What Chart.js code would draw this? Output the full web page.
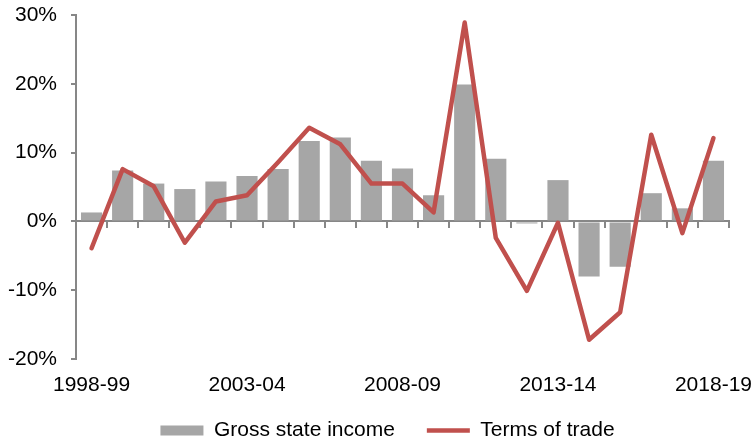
<!DOCTYPE html>
<html>
<head>
<meta charset="utf-8">
<script src="https://cdn.jsdelivr.net/npm/chart.js@4/dist/chart.umd.min.js"></script>
<style>
  html, body { margin: 0; padding: 0; background: #fff; }
  #wrap { width: 754px; height: 443px; }
</style>
</head>
<body>
<div id="wrap"><canvas id="graficoGSI"></canvas></div>
<script>
const anos = ['1998-99', '1999-00', '2000-01', '2001-02', '2002-03', '2003-04', '2004-05',
  '2005-06', '2006-07', '2007-08', '2008-09', '2009-10', '2010-11', '2011-12', '2012-13',
  '2013-14', '2014-15', '2015-16', '2016-17', '2017-18', '2018-19'];
const rendaBruta = [1.3, 7.4, 5.5, 4.7, 5.8, 6.6, 7.6, 11.7, 12.2, 8.8, 7.7,
  3.8, 19.9, 9.1, -0.3, 6.0, -8.0, -6.6, 4.1, 1.9, 8.8];
const termosTroca = [-3.9, 7.6, 5.1, -3.1, 2.9, 3.8, 8.6, 13.6, 11.2, 5.5, 5.5,
  1.3, 28.9, -2.4, -10.1, -0.2, -17.2, -13.2, 12.6, -1.7, 12.1];
const yTicks = [-20, -10, 0, 10, 20, 30];

const cinza = '#a6a6a6';
const vermelho = '#c0504d';
const eixo = '#878787';
const fonte = { family: 'Arial, "Liberation Sans", sans-serif', size: 21 };

// sem recorte dos rótulos e sem margem extra dos eixos
const semRecorte = (s) => {
  s._computeLabelArea = () => undefined;
  s.paddingLeft = s.paddingRight = s.paddingTop = s.paddingBottom = 0;
};

const ctx = document.getElementById('graficoGSI').getContext('2d');

new Chart(ctx, {
  data: {
    labels: anos,
    datasets: [
      {
        type: 'line',
        label: 'Terms of trade',
        data: termosTroca,
        borderColor: vermelho,
        backgroundColor: vermelho,
        borderWidth: 4.5,
        borderJoinStyle: 'round',
        borderCapStyle: 'round',
        pointRadius: 0,
        tension: 0,
        pointStyle: 'line',
        order: 1
      },
      {
        type: 'bar',
        label: 'Gross state income',
        data: rendaBruta,
        backgroundColor: cinza,
        borderWidth: 0,
        barPercentage: 0.68,
        categoryPercentage: 1,
        pointStyle: 'rect',
        order: 2
      }
    ]
  },
  options: {
    responsive: true,
    maintainAspectRatio: false,
    animation: false,
    layout: { padding: { left: 46, right: 25, top: 15, bottom: -8 } },
    plugins: {
      tooltip: { enabled: false },
      legend: {
        position: 'bottom',
        reverse: true,
        labels: {
          usePointStyle: true,
          pointStyleWidth: 43,
          boxHeight: 10,
          padding: 32,
          color: '#000',
          font: fonte
        }
      }
    },
    scales: {
      x: {
        grid: { display: false, drawTicks: false },
        border: { display: false },
        afterFit: (s) => { semRecorte(s); s.height = 29; },
        ticks: {
          autoSkip: false,
          maxRotation: 0,
          padding: 14,
          color: '#000',
          font: fonte,
          callback: (v, i) => (i % 5 === 0 ? anos[i] : '')
        }
      },
      x2: {
        type: 'category',
        axis: 'x',
        position: { y: 0 },
        offset: true,
        grid: { offset: true, drawOnChartArea: false, tickLength: 6, color: eixo, lineWidth: 2 },
        border: { color: eixo, width: 2 },
        ticks: { display: false }
      },
      y: {
        min: yTicks[0],
        max: yTicks[yTicks.length - 1],
        afterBuildTicks: (s) => { s.ticks = yTicks.map(v => ({ value: v })); },
        afterFit: (s) => { semRecorte(s); s.width = 30; },
        grid: { drawOnChartArea: false, tickLength: 5, color: eixo, lineWidth: 2 },
        border: { color: eixo, width: 2 },
        ticks: {
          padding: 14,
          color: '#000',
          font: fonte,
          callback: (v) => v + '%'
        }
      }
    }
  }
});
</script>
</body>
</html>
